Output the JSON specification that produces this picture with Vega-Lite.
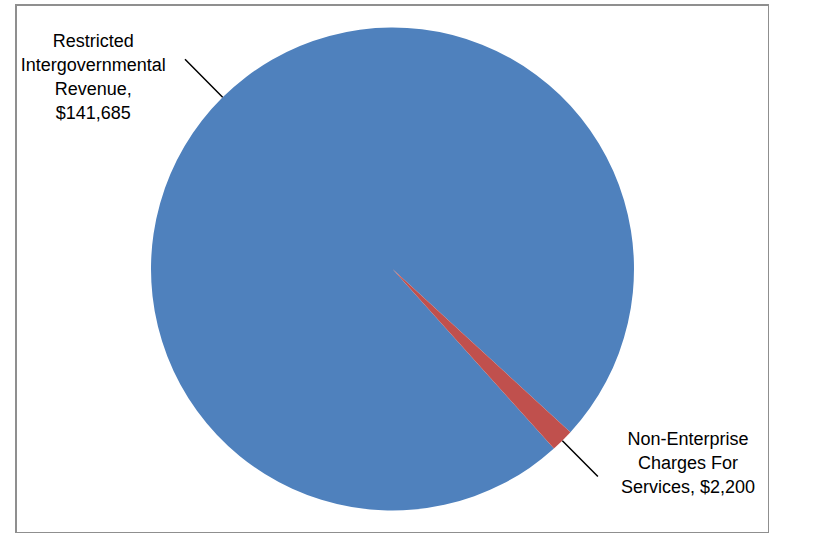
{
  "$schema": "https://vega.github.io/schema/vega-lite/v6.json",
  "autosize": "none",
  "width": 753,
  "height": 528,
  "padding": {"left": 16, "top": 5, "right": 0, "bottom": 0},
  "background": "white",
  "view": {"stroke": "#8f8f8f", "strokeWidth": 2, "fill": "white"},
  "config": {
    "view": {"stroke": "#8f8f8f", "strokeWidth": 2},
    "font": "Liberation Sans"
  },
  "data": {
    "values": [
      {"category": "Restricted Intergovernmental Revenue", "value": 141685, "label": "Restricted\nIntergovernmental\nRevenue,\n$141,685"},
      {"category": "Non-Enterprise Charges For Services", "value": 2200, "label": "Non-Enterprise\nCharges For\nServices, $2,200"}
    ]
  },
  "resolve": {"scale": {"theta": "independent"}},
  "layer": [
    {
      "mark": {"type": "arc", "radius": 241.5, "stroke": null},
      "encoding": {
        "theta": {"field": "value", "type": "quantitative", "stack": true, "scale": {"range": [2.3134, 8.5966]}},
        "order": {"field": "value", "type": "quantitative", "sort": "ascending"},
        "color": {
          "field": "category", "type": "nominal", "legend": null,
          "scale": {"domain": ["Restricted Intergovernmental Revenue", "Non-Enterprise Charges For Services"], "range": ["#4f81bd", "#c0504d"]}
        }
      }
    },
    {
      "mark": {"type": "arc", "radius": 292, "radius2": 241.5, "padAngle": 0.5, "filled": false, "stroke": "#000000", "strokeWidth": 1.5},
      "encoding": {
        "theta": {"field": "value", "type": "quantitative", "stack": true, "scale": {"range": [2.3134, 8.5966]}},
        "order": {"field": "value", "type": "quantitative", "sort": "ascending"},
        "strokeOpacity": {"condition": {"test": "datum.category === 'Non-Enterprise Charges For Services'", "value": 1}, "value": 0}
      }
    },
    {
      "mark": {"type": "arc", "radius": 295, "radius2": 241.5, "padAngle": 0.5, "filled": false, "stroke": "#000000", "strokeWidth": 1.5},
      "encoding": {
        "theta": {"field": "value", "type": "quantitative", "stack": true, "scale": {"range": [5.455, 11.7382]}},
        "order": {"field": "value", "type": "quantitative", "sort": "ascending"},
        "strokeOpacity": {"condition": {"test": "datum.category === 'Non-Enterprise Charges For Services'", "value": 1}, "value": 0}
      }
    },
    {
      "mark": {"type": "text", "radius": 269, "dx": -110, "dy": -36, "align": "center", "baseline": "middle", "fontSize": 18, "lineHeight": 24, "lineBreak": "\n", "color": "#000000"},
      "encoding": {
        "theta": {"field": "value", "type": "quantitative", "stack": true, "scale": {"range": [2.3134, 8.5966]}},
        "order": {"field": "value", "type": "quantitative", "sort": "ascending"},
        "text": {"condition": {"test": "datum.category === 'Restricted Intergovernmental Revenue'", "field": "label"}, "value": ""}
      }
    },
    {
      "mark": {"type": "text", "radius": 275, "dx": 102, "dy": -24, "align": "center", "baseline": "middle", "fontSize": 18, "lineHeight": 24, "lineBreak": "\n", "color": "#000000"},
      "encoding": {
        "theta": {"field": "value", "type": "quantitative", "stack": true, "scale": {"range": [2.3134, 8.5966]}},
        "order": {"field": "value", "type": "quantitative", "sort": "ascending"},
        "text": {"condition": {"test": "datum.category === 'Non-Enterprise Charges For Services'", "field": "label"}, "value": ""}
      }
    }
  ]
}
